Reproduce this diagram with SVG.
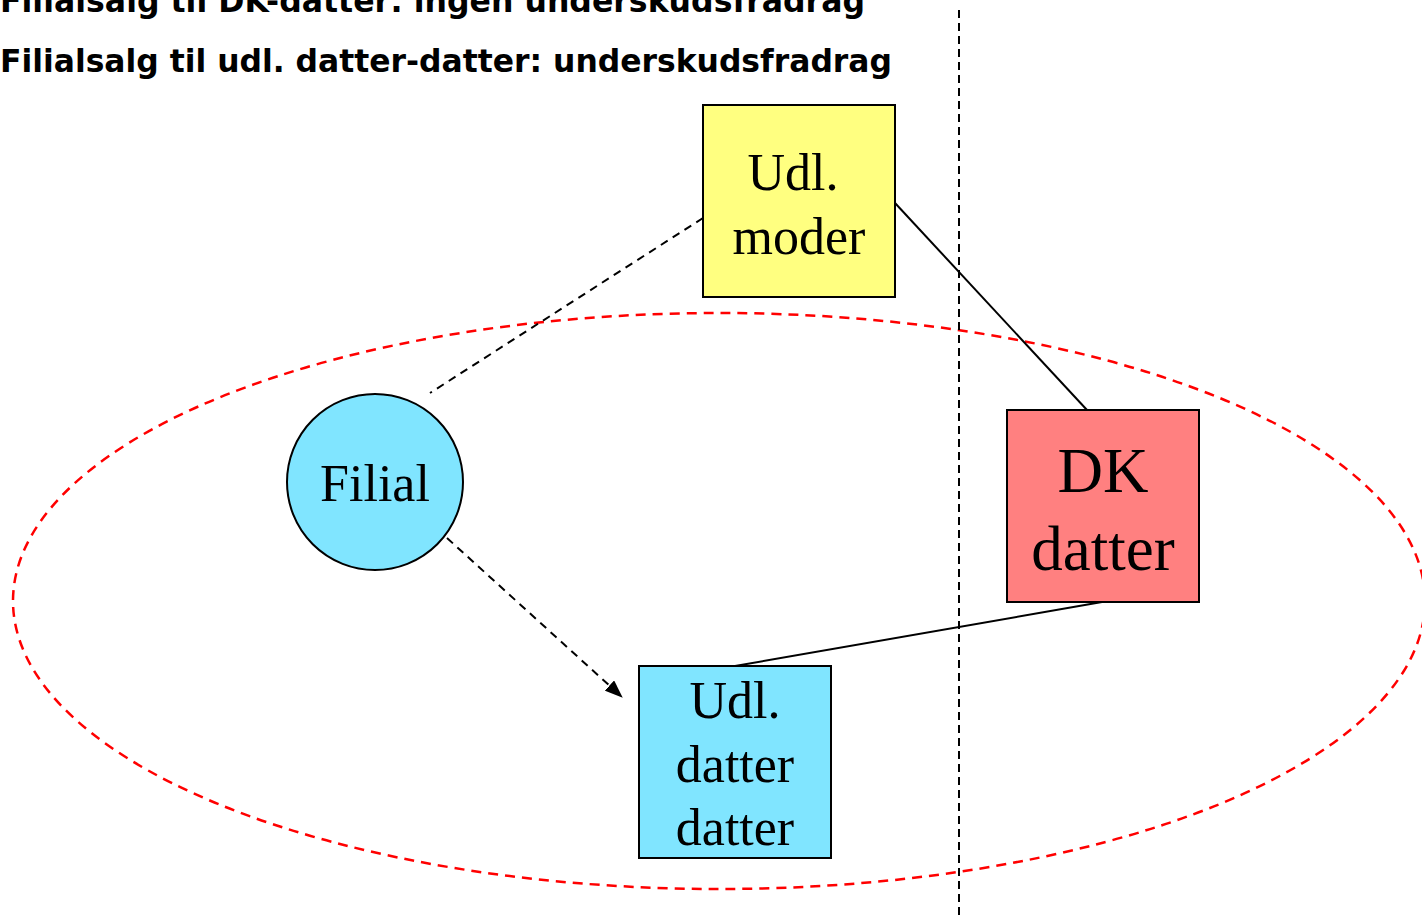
<svg xmlns="http://www.w3.org/2000/svg" width="1422" height="918" viewBox="0 0 1422 918">
<defs>
<marker id="arr" markerWidth="18" markerHeight="14" refX="17" refY="7" orient="auto" markerUnits="userSpaceOnUse" viewBox="0 0 18 14">
<path d="M0,0 L18,7 L0,14 z" fill="#000"/>
</marker>
</defs>
<style>
.hdr{font-family:"DejaVu Sans",Verdana,sans-serif;font-weight:bold;font-size:32px;fill:#000}
.lbl{font-family:"Liberation Serif","Times New Roman",serif;font-size:52px;fill:#000;text-anchor:middle}
.big{font-size:63px}
.box{stroke:#000;stroke-width:2}
</style>
<rect width="1422" height="918" fill="#fff"/>
<text class="hdr" x="0" y="12" textLength="865" lengthAdjust="spacingAndGlyphs">Filialsalg til DK-datter: ingen underskudsfradrag</text>
<text class="hdr" x="0" y="72" textLength="892" lengthAdjust="spacingAndGlyphs">Filialsalg til udl. datter-datter: underskudsfradrag</text>
<ellipse cx="719" cy="601" rx="706" ry="288" fill="none" stroke="#ff0000" stroke-width="2.5" stroke-dasharray="10,7"/>
<line x1="959" y1="10" x2="959" y2="918" stroke="#000" stroke-width="2" stroke-dasharray="8,5"/>
<g id="connectors" fill="none" stroke="#000" stroke-width="2">
<line x1="895" y1="203" x2="1087" y2="410"/>
<line x1="1102" y1="602" x2="735" y2="666"/>
<line x1="703" y1="218" x2="430" y2="393" stroke-dasharray="8,6"/>
<line x1="447" y1="538" x2="622" y2="697" stroke-dasharray="8,6" marker-end="url(#arr)"/>
</g>
<g id="udl-moder">
<rect class="box" x="703" y="105" width="192" height="192" fill="#ffff80"/>
<text class="lbl" x="793" y="190">Udl.</text>
<text class="lbl" x="799" y="254">moder</text>
</g>
<g id="dk-datter">
<rect class="box" x="1007" y="410" width="192" height="192" fill="#ff8080"/>
<text class="lbl big" x="1103" y="492">DK</text>
<text class="lbl big" x="1103" y="570">datter</text>
</g>
<g id="filial">
<circle cx="375" cy="482" r="88" fill="#80e5ff" stroke="#000" stroke-width="2"/>
<text class="lbl" x="375" y="501">Filial</text>
</g>
<g id="udl-datter-datter">
<rect class="box" x="639" y="666" width="192" height="192" fill="#80e5ff"/>
<text class="lbl" x="735" y="718">Udl.</text>
<text class="lbl" x="735" y="782">datter</text>
<text class="lbl" x="735" y="845">datter</text>
</g>
</svg>
